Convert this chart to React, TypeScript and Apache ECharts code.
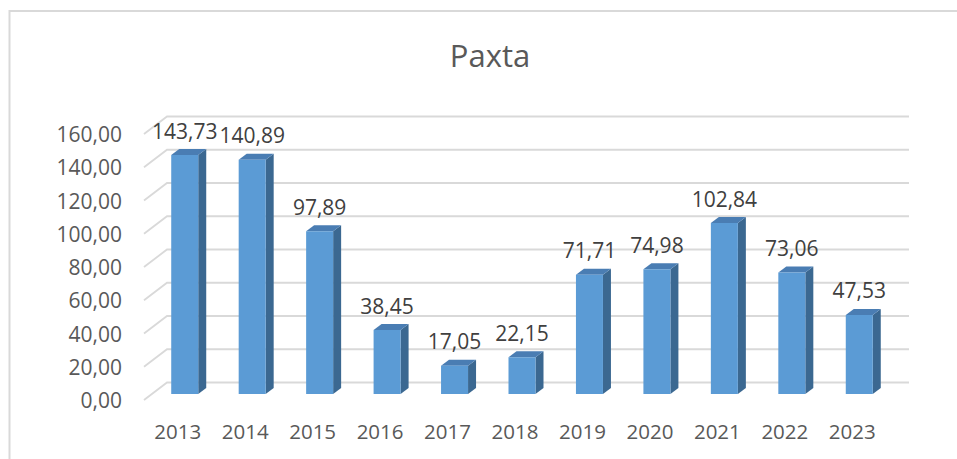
import React, { useEffect, useRef } from "react";
import * as echarts from "echarts";

const categories = ["2013", "2014", "2015", "2016", "2017", "2018", "2019", "2020", "2021", "2022", "2023"];
const values = [143.73, 140.89, 97.89, 38.45, 17.05, 22.15, 71.71, 74.98, 102.84, 73.06, 47.53];
const yTicks = [0, 20, 40, 60, 80, 100, 120, 140, 160];
const titleText = "Paxta";

const fmt = (v: number) => v.toFixed(2).replace(".", ",");

export default function App() {
  const ref = useRef<HTMLDivElement>(null);
  useEffect(() => {
    if (!ref.current) return;
    const chart = echarts.init(ref.current, null, { renderer: "svg" });
    const FONT = "'Open Sans', 'Noto Sans', sans-serif";
    const wallDx = 23;
    const wallDy = -17.5;
    const barOx = 7;
    const barOy = -6;
    const barW = 27;
    const depthX = 8;
    const depthY = -6;
    chart.setOption({
      animation: false,
      backgroundColor: "#ffffff",
      graphic: [
        {
          type: "rect",
          shape: { x: 9.5, y: 11, width: 1000, height: 500 },
          style: { fill: "none", stroke: "#d9d9d9", lineWidth: 2 },
          silent: true,
        },
        {
          type: "text",
          x: 490,
          y: 55,
          style: {
            text: titleText,
            fontFamily: FONT,
            fontSize: 31,
            fill: "#595959",
            align: "center",
            verticalAlign: "middle",
          },
        },
      ],
      grid: { left: 144, right: 71, top: 134, bottom: 59 },
      xAxis: {
        type: "category",
        data: categories,
        axisLine: { show: false },
        axisTick: { show: false },
        axisLabel: { fontFamily: FONT, fontSize: 20.5, color: "#595959", margin: 20 },
      },
      yAxis: {
        type: "value",
        min: 0,
        max: 160,
        interval: 20,
        splitLine: { show: false },
        axisLine: { show: false },
        axisTick: { show: false },
        axisLabel: { fontFamily: FONT, fontSize: 21, color: "#595959", margin: 22, formatter: (v: number) => fmt(v) },
      },
      series: [
        {
          type: "custom",
          name: "grid",
          silent: true,
          z: 1,
          data: yTicks.map((t) => [0, t]),
          renderItem: (params: any, api: any) => {
            const v = api.value(1);
            const y = api.coord([0, v])[1];
            const gx = params.coordSys.x;
            const gw = params.coordSys.width;
            return {
              type: "polyline",
              shape: {
                points: [
                  [gx, y],
                  [gx + wallDx, y + wallDy],
                  [gx + wallDx + gw, y + wallDy],
                ],
              },
              style: { stroke: "#d9d9d9", lineWidth: 1.8, fill: "none" },
            };
          },
        },
        {
          type: "custom",
          name: "Paxta",
          z: 2,
          data: values.map((v, i) => [i, v]),
          renderItem: (params: any, api: any) => {
            const i = api.value(0);
            const v = api.value(1);
            const top = api.coord([i, v]);
            const base = api.coord([i, 0]);
            const cx = top[0] + barOx;
            const x0 = cx - barW / 2;
            const x1 = cx + barW / 2;
            const yt = top[1] + barOy;
            const yb = base[1] + barOy;
            return {
              type: "group",
              children: [
                {
                  type: "polygon",
                  shape: { points: [[x1, yt], [x1 + depthX, yt + depthY], [x1 + depthX, yb + depthY], [x1, yb]] },
                  style: { fill: "#3b6891" },
                },
                {
                  type: "polygon",
                  shape: { points: [[x0, yt], [x0 + depthX, yt + depthY], [x1 + depthX, yt + depthY], [x1, yt]] },
                  style: { fill: "#4a7db3" },
                },
                {
                  type: "rect",
                  shape: { x: x0, y: yt, width: barW, height: yb - yt },
                  style: { fill: "#5b9bd5" },
                },
                {
                  type: "text",
                  x: cx,
                  y: yt - 24.5,
                  style: {
                    text: fmt(v),
                    fontFamily: FONT,
                    fontSize: 21,
                    fill: "#404040",
                    align: "center",
                    verticalAlign: "middle",
                  },
                },
              ],
            };
          },
        },
      ],
    });
    return () => chart.dispose();
  }, []);
  return <div ref={ref} style={{ position: "fixed", left: 0, top: 0, width: 957, height: 459 }} />;
}
